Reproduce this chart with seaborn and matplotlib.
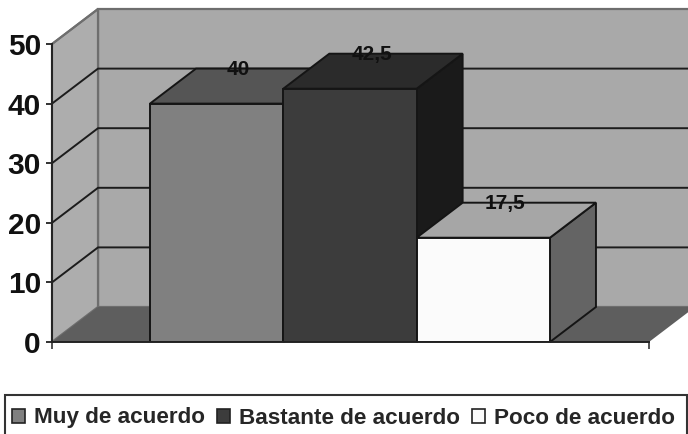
import matplotlib
matplotlib.use("Agg")
import matplotlib.pyplot as plt
import seaborn as sns
from matplotlib.patches import Polygon, Rectangle

# datos de la grafica
categorias = ["Muy de acuerdo", "Bastante de acuerdo", "Poco de acuerdo"]
valores = [40, 42.5, 17.5]
etiquetas = ["40", "42,5", "17,5"]
ticks_y = [0, 10, 20, 30, 40, 50]

# colores de cada cara: frente, arriba, lado
frente = ["#808080", "#3c3c3c", "#fbfbfb"]
arriba = ["#555555", "#2b2b2b", "#a6a6a6"]
lado = ["#5a5a5a", "#1a1a1a", "#646464"]

sns.set_theme(style="white")
plt.rcParams["font.family"] = ["Liberation Sans", "DejaVu Sans"]
plt.rcParams["font.weight"] = "bold"

W, H = 688, 434
fig = plt.figure(figsize=(W / 100, H / 100), dpi=100)
ax = fig.add_axes([52 / W, 1 - 342 / H, 597 / W, 298 / H])

df_x = categorias
sns.barplot(x=df_x, y=valores, hue=df_x, palette=frente, width=1, saturation=1,
            dodge=False, edgecolor="#151515", linewidth=1.4, ax=ax, legend=False)

ax.set_xlim(-1.235, 3.243)
ax.set_ylim(0, 50)
x0, x1 = ax.get_xlim()

# profundidad del efecto 3D (en unidades de datos)
dx = 46 / 133.3
dy = 35 / 5.96


def cara(puntos, color, z, borde="#151515", lw=1.4):
    ax.add_patch(Polygon(puntos, closed=True, facecolor=color, edgecolor=borde,
                         linewidth=lw, zorder=z, clip_on=False, joinstyle="miter"))


# paredes y piso
cara([(x0 + dx, dy), (x1 + dx, dy), (x1 + dx, 50 + dy), (x0 + dx, 50 + dy)], "#a9a9a9", 0.1, "#6e6e6e", 1.6)
cara([(x0, 0), (x0 + dx, dy), (x0 + dx, 50 + dy), (x0, 50)], "#adadad", 0.2, "#6e6e6e", 1.6)
cara([(x0, 0), (x1, 0), (x1 + dx, dy), (x0 + dx, dy)], "#5e5e5e", 0.3, "none", 0)

# lineas de division
for t in ticks_y[1:-1]:
    ax.plot([x0, x0 + dx, x1 + dx], [t, t + dy, t + dy], color="#1c1c1c", lw=1.4,
            zorder=0.4, clip_on=False)
ax.plot([x0, x0 + dx], [50, 50 + dy], color="#6e6e6e", lw=1.4, zorder=0.4, clip_on=False)

# caras de las barras, de izquierda a derecha
for i, (barra, v) in enumerate(zip(ax.patches, valores)):
    a, b = barra.get_x(), barra.get_x() + barra.get_width()
    cara([(b, 0), (b + dx, dy), (b + dx, v + dy), (b, v)], lado[i], 2 + i)
    cara([(a, v), (b, v), (b + dx, v + dy), (a + dx, v + dy)], arriba[i], 2 + i)
    barra.set_zorder(2.5 + i)
    ax.text(i + dx * 0.48, v + dy - 0.1, etiquetas[i], ha="center", va="center",
            fontsize=15, fontweight="bold", color="#111111", zorder=10)

sns.despine(ax=ax)
for lado_eje in ["left", "bottom"]:
    ax.spines[lado_eje].set_color("#222222")
    ax.spines[lado_eje].set_linewidth(1.4)
    ax.spines[lado_eje].set_zorder(9)

ax.set_yticks(ticks_y)
ax.set_yticklabels([str(t) for t in ticks_y], fontsize=21.5, fontweight="bold", color="#111111")
ax.set_xticks([x0, x1])
ax.set_xticklabels(["", ""])
ax.tick_params(axis="y", left=True, length=4, width=1.3, color="#222222", pad=4)
ax.tick_params(axis="x", bottom=True, length=5, width=1.3, color="#444444")
ax.set_xlim(x0, x1)
ax.grid(False)

# marco de la leyenda: el borde inferior queda fuera de la imagen
fig.add_artist(Rectangle((5 / W, -0.02), 682 / W, 0.02 + 39 / H, transform=fig.transFigure,
                         facecolor="white", edgecolor="#333333", linewidth=1.5))

# leyenda
handles = [plt.Rectangle((0, 0), 1, 1, facecolor=c, edgecolor="#222222", linewidth=1.2) for c in frente]
ley = fig.legend(handles, categorias, ncol=3, loc="upper left",
                 bbox_to_anchor=(12 / W, 1 - 407.5 / H), bbox_transform=fig.transFigure,
                 prop={"family": "Liberation Sans", "weight": "bold", "size": 16.2},
                 frameon=False, handlelength=0.58, handleheight=0.58, handletextpad=0.4,
                 columnspacing=0.54, borderaxespad=0, borderpad=0)

fig.savefig("out.png", dpi=100)
